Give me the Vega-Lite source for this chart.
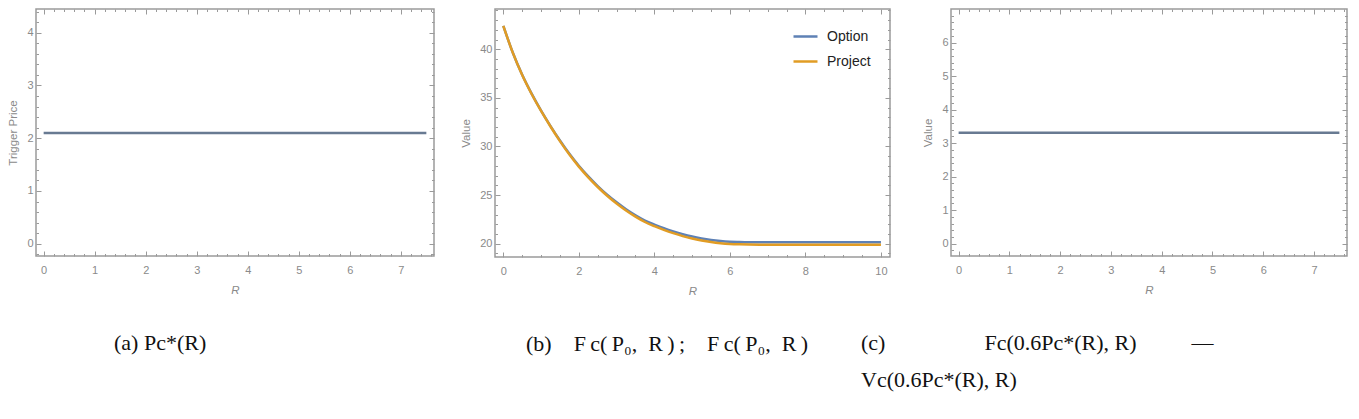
{
  "$schema": "https://vega.github.io/schema/vega-lite/v6.json",
  "padding": {"left": 7, "top": 7, "right": 5, "bottom": 5},
  "bounds": "flush",
  "spacing": 61,
  "resolve": {"scale": {"color": "independent"}, "legend": {"color": "independent"}},
  "config": {
    "view": {"stroke": "#9a9a9a", "strokeWidth": 1.5},
    "axis": {"domain": false, "grid": false, "labelColor": "#8a8a8a", "labelFont": "Liberation Sans", "labelFontSize": 11, "tickColor": "#9a9a9a", "tickWidth": 1, "titleColor": "#8a8a8a", "titleFont": "Liberation Sans", "titleFontSize": 11.5, "titleFontWeight": "normal"},
    "title": {"font": "Liberation Serif", "fontSize": 22, "fontWeight": "normal", "color": "#111111", "lineHeight": 37}
  },
  "hconcat": [
    {
      "width": 398, "height": 247,
      "title": {"text": "(a)  Pc*(R)", "orient": "bottom", "anchor": "start", "frame": "group", "dx": 78, "offset": 37},
      "data": {"values": [
        {"R": 0, "v": 2.1}, {"R": 0.5, "v": 2.1}, {"R": 1, "v": 2.1}, {"R": 1.5, "v": 2.1}, {"R": 2, "v": 2.1}, {"R": 2.5, "v": 2.1}, {"R": 3, "v": 2.1}, {"R": 3.5, "v": 2.1},
        {"R": 4, "v": 2.1}, {"R": 4.5, "v": 2.1}, {"R": 5, "v": 2.1}, {"R": 5.5, "v": 2.1}, {"R": 6, "v": 2.1}, {"R": 6.5, "v": 2.1}, {"R": 7, "v": 2.1}, {"R": 7.5, "v": 2.1}
      ]},
      "layer": [
        {"mark": {"type": "line", "color": "#687a92", "strokeWidth": 2.5},
         "encoding": {
           "x": {"field": "R", "type": "quantitative", "scale": {"domain": [-0.15, 7.65], "nice": false, "zero": false},
                 "axis": {"orient": "bottom", "values": [0,1,2,3,4,5,6,7], "tickSize": -5, "labelPadding": 13, "title": "R", "titleFontStyle": "italic", "titlePadding": 9}},
           "y": {"field": "v", "type": "quantitative", "scale": {"domain": [-0.233, 4.45], "nice": false, "zero": false},
                 "axis": {"orient": "left", "values": [0,1,2,3,4], "tickSize": -5, "labelPadding": 8, "title": "Trigger Price", "titlePadding": 8}}
         }},
        {"mark": {"type": "point", "opacity": 0},
         "encoding": {
           "x": {"field": "R", "type": "quantitative", "axis": {"orient": "top", "values": [0,1,2,3,4,5,6,7], "tickSize": -5, "labels": false, "title": null}},
           "y": {"field": "v", "type": "quantitative", "axis": {"orient": "right", "values": [0,1,2,3,4], "tickSize": -5, "labels": false, "title": null}}
         }},
        {"mark": {"type": "point", "opacity": 0},
         "encoding": {
           "x": {"field": "R", "type": "quantitative", "axis": {"orient": "bottom", "values": [0.2,0.4,0.6,0.8,1.2,1.4,1.6,1.8,2.2,2.4,2.6,2.8,3.2,3.4,3.6,3.8,4.2,4.4,4.6,4.8,5.2,5.4,5.6,5.8,6.2,6.4,6.6,6.8,7.2,7.4,7.6], "tickSize": -2.5, "labels": false, "title": null}},
           "y": {"field": "v", "type": "quantitative", "axis": {"orient": "left", "values": [-0.2,0.2,0.4,0.6,0.8,1.2,1.4,1.6,1.8,2.2,2.4,2.6,2.8,3.2,3.4,3.6,3.8,4.2,4.4], "tickSize": -2.5, "labels": false, "title": null}}
         }},
        {"mark": {"type": "point", "opacity": 0},
         "encoding": {
           "x": {"field": "R", "type": "quantitative", "axis": {"orient": "top", "values": [0.2,0.4,0.6,0.8,1.2,1.4,1.6,1.8,2.2,2.4,2.6,2.8,3.2,3.4,3.6,3.8,4.2,4.4,4.6,4.8,5.2,5.4,5.6,5.8,6.2,6.4,6.6,6.8,7.2,7.4,7.6], "tickSize": -2.5, "labels": false, "title": null}},
           "y": {"field": "v", "type": "quantitative", "axis": {"orient": "right", "values": [-0.2,0.2,0.4,0.6,0.8,1.2,1.4,1.6,1.8,2.2,2.4,2.6,2.8,3.2,3.4,3.6,3.8,4.2,4.4], "tickSize": -2.5, "labels": false, "title": null}}
         }}
      ],
      "resolve": {"axis": {"x": "independent", "y": "independent"}}
    },
    {
      "width": 395, "height": 248,
      "title": {"text": "(b)\u2003F\u2009c(\u2009P\u2080,\u2002R\u2009)\u2009;\u2003F\u2009c(\u2009P\u2080,\u2002R\u2009)", "orient": "bottom", "anchor": "start", "frame": "group", "dx": 31, "offset": 37},
      "data": {"values": [
        {"R": 0, "series": "Option", "v": 42.4}, {"R": 0.25, "series": "Option", "v": 39.66}, {"R": 0.5, "series": "Option", "v": 37.37}, {"R": 0.75, "series": "Option", "v": 35.43},
        {"R": 1, "series": "Option", "v": 33.69}, {"R": 1.25, "series": "Option", "v": 32.1}, {"R": 1.5, "series": "Option", "v": 30.61}, {"R": 1.75, "series": "Option", "v": 29.24},
        {"R": 2, "series": "Option", "v": 28.01}, {"R": 2.25, "series": "Option", "v": 26.92}, {"R": 2.5, "series": "Option", "v": 25.93}, {"R": 2.75, "series": "Option", "v": 25.04},
        {"R": 3, "series": "Option", "v": 24.25}, {"R": 3.25, "series": "Option", "v": 23.54}, {"R": 3.5, "series": "Option", "v": 22.92}, {"R": 3.75, "series": "Option", "v": 22.38},
        {"R": 4, "series": "Option", "v": 21.96}, {"R": 4.25, "series": "Option", "v": 21.59}, {"R": 4.5, "series": "Option", "v": 21.26}, {"R": 4.75, "series": "Option", "v": 20.97},
        {"R": 5, "series": "Option", "v": 20.73}, {"R": 5.25, "series": "Option", "v": 20.54}, {"R": 5.5, "series": "Option", "v": 20.39}, {"R": 5.75, "series": "Option", "v": 20.28},
        {"R": 6, "series": "Option", "v": 20.21}, {"R": 6.25, "series": "Option", "v": 20.18}, {"R": 6.5, "series": "Option", "v": 20.16}, {"R": 7, "series": "Option", "v": 20.15},
        {"R": 8, "series": "Option", "v": 20.15}, {"R": 9, "series": "Option", "v": 20.15}, {"R": 10, "series": "Option", "v": 20.15},
        {"R": 0, "series": "Project", "v": 42.4}, {"R": 0.25, "series": "Project", "v": 39.65}, {"R": 0.5, "series": "Project", "v": 37.35}, {"R": 0.75, "series": "Project", "v": 35.4},
        {"R": 1, "series": "Project", "v": 33.65}, {"R": 1.25, "series": "Project", "v": 32.05}, {"R": 1.5, "series": "Project", "v": 30.55}, {"R": 1.75, "series": "Project", "v": 29.17},
        {"R": 2, "series": "Project", "v": 27.93}, {"R": 2.25, "series": "Project", "v": 26.83}, {"R": 2.5, "series": "Project", "v": 25.83}, {"R": 2.75, "series": "Project", "v": 24.93},
        {"R": 3, "series": "Project", "v": 24.13}, {"R": 3.25, "series": "Project", "v": 23.41}, {"R": 3.5, "series": "Project", "v": 22.78}, {"R": 3.75, "series": "Project", "v": 22.23},
        {"R": 4, "series": "Project", "v": 21.8}, {"R": 4.25, "series": "Project", "v": 21.42}, {"R": 4.5, "series": "Project", "v": 21.08}, {"R": 4.75, "series": "Project", "v": 20.78},
        {"R": 5, "series": "Project", "v": 20.53}, {"R": 5.25, "series": "Project", "v": 20.33}, {"R": 5.5, "series": "Project", "v": 20.17}, {"R": 5.75, "series": "Project", "v": 20.05},
        {"R": 6, "series": "Project", "v": 19.97}, {"R": 6.25, "series": "Project", "v": 19.93}, {"R": 6.5, "series": "Project", "v": 19.91}, {"R": 7, "series": "Project", "v": 19.9},
        {"R": 8, "series": "Project", "v": 19.9}, {"R": 9, "series": "Project", "v": 19.9}, {"R": 10, "series": "Project", "v": 19.9}
      ]},
      "layer": [
        {"mark": {"type": "line", "strokeWidth": 2.5, "interpolate": "monotone"},
         "encoding": {
           "x": {"field": "R", "type": "quantitative", "scale": {"domain": [-0.22, 10.24], "nice": false, "zero": false},
                 "axis": {"orient": "bottom", "values": [0,2,4,6,8,10], "tickSize": -5, "labelPadding": 13, "title": "R", "titleFontStyle": "italic", "titlePadding": 9}},
           "y": {"field": "v", "type": "quantitative", "scale": {"domain": [18.63, 44.14], "nice": false, "zero": false},
                 "axis": {"orient": "left", "values": [20,25,30,35,40], "tickSize": -5, "labelPadding": 8, "title": "Value", "titlePadding": 8}},
           "color": {"field": "series", "type": "nominal", "scale": {"domain": ["Option", "Project"], "range": ["#5E81B5", "#E19C24"]},
                     "legend": {"orient": "none", "legendX": 297, "legendY": 14, "padding": 0, "title": null, "symbolType": "stroke", "symbolSize": 576, "symbolStrokeWidth": 2.5, "labelFontSize": 14, "labelFont": "Liberation Sans", "labelColor": "#222222", "labelOffset": 8, "rowPadding": 4}}
         }},
        {"mark": {"type": "point", "opacity": 0},
         "encoding": {
           "x": {"field": "R", "type": "quantitative", "axis": {"orient": "top", "values": [0,2,4,6,8,10], "tickSize": -5, "labels": false, "title": null}},
           "y": {"field": "v", "type": "quantitative", "axis": {"orient": "right", "values": [20,25,30,35,40], "tickSize": -5, "labels": false, "title": null}}
         }},
        {"mark": {"type": "point", "opacity": 0},
         "encoding": {
           "x": {"field": "R", "type": "quantitative", "axis": {"orient": "bottom", "values": [0.5,1,1.5,2.5,3,3.5,4.5,5,5.5,6.5,7,7.5,8.5,9,9.5], "tickSize": -2.5, "labels": false, "title": null}},
           "y": {"field": "v", "type": "quantitative", "axis": {"orient": "left", "values": [19,21,22,23,24,26,27,28,29,31,32,33,34,36,37,38,39,41,42,43,44], "tickSize": -2.5, "labels": false, "title": null}}
         }},
        {"mark": {"type": "point", "opacity": 0},
         "encoding": {
           "x": {"field": "R", "type": "quantitative", "axis": {"orient": "top", "values": [0.5,1,1.5,2.5,3,3.5,4.5,5,5.5,6.5,7,7.5,8.5,9,9.5], "tickSize": -2.5, "labels": false, "title": null}},
           "y": {"field": "v", "type": "quantitative", "axis": {"orient": "right", "values": [19,21,22,23,24,26,27,28,29,31,32,33,34,36,37,38,39,41,42,43,44], "tickSize": -2.5, "labels": false, "title": null}}
         }}
      ],
      "resolve": {"axis": {"x": "independent", "y": "independent"}}
    },
    {
      "width": 396, "height": 247,
      "title": {"text": ["(c)\u2003\u2003\u2003\u2003\u2002Fc(0.6Pc*(R), R)\u2003\u2003\u2002—", "Vc(0.6Pc*(R), R)"], "orient": "bottom", "anchor": "start", "frame": "group", "dx": -90, "offset": 37},
      "data": {"values": [
        {"R": 0, "v": 3.31}, {"R": 0.5, "v": 3.31}, {"R": 1, "v": 3.31}, {"R": 1.5, "v": 3.31}, {"R": 2, "v": 3.31}, {"R": 2.5, "v": 3.31}, {"R": 3, "v": 3.31}, {"R": 3.5, "v": 3.31},
        {"R": 4, "v": 3.31}, {"R": 4.5, "v": 3.31}, {"R": 5, "v": 3.31}, {"R": 5.5, "v": 3.31}, {"R": 6, "v": 3.31}, {"R": 6.5, "v": 3.31}, {"R": 7, "v": 3.31}, {"R": 7.5, "v": 3.31}
      ]},
      "layer": [
        {"mark": {"type": "line", "color": "#687a92", "strokeWidth": 2.5},
         "encoding": {
           "x": {"field": "R", "type": "quantitative", "scale": {"domain": [-0.15, 7.65], "nice": false, "zero": false},
                 "axis": {"orient": "bottom", "values": [0,1,2,3,4,5,6,7], "tickSize": -5, "labelPadding": 13, "title": "R", "titleFontStyle": "italic", "titlePadding": 9}},
           "y": {"field": "v", "type": "quantitative", "scale": {"domain": [-0.367, 7.0], "nice": false, "zero": false},
                 "axis": {"orient": "left", "values": [0,1,2,3,4,5,6], "tickSize": -5, "labelPadding": 8, "title": "Value", "titlePadding": 8}}
         }},
        {"mark": {"type": "point", "opacity": 0},
         "encoding": {
           "x": {"field": "R", "type": "quantitative", "axis": {"orient": "top", "values": [0,1,2,3,4,5,6,7], "tickSize": -5, "labels": false, "title": null}},
           "y": {"field": "v", "type": "quantitative", "axis": {"orient": "right", "values": [0,1,2,3,4,5,6], "tickSize": -5, "labels": false, "title": null}}
         }},
        {"mark": {"type": "point", "opacity": 0},
         "encoding": {
           "x": {"field": "R", "type": "quantitative", "axis": {"orient": "bottom", "values": [0.2,0.4,0.6,0.8,1.2,1.4,1.6,1.8,2.2,2.4,2.6,2.8,3.2,3.4,3.6,3.8,4.2,4.4,4.6,4.8,5.2,5.4,5.6,5.8,6.2,6.4,6.6,6.8,7.2,7.4,7.6], "tickSize": -2.5, "labels": false, "title": null}},
           "y": {"field": "v", "type": "quantitative", "axis": {"orient": "left", "values": [-0.2,0.2,0.4,0.6,0.8,1.2,1.4,1.6,1.8,2.2,2.4,2.6,2.8,3.2,3.4,3.6,3.8,4.2,4.4,4.6,4.8,5.2,5.4,5.6,5.8,6.2,6.4,6.6,6.8], "tickSize": -2.5, "labels": false, "title": null}}
         }},
        {"mark": {"type": "point", "opacity": 0},
         "encoding": {
           "x": {"field": "R", "type": "quantitative", "axis": {"orient": "top", "values": [0.2,0.4,0.6,0.8,1.2,1.4,1.6,1.8,2.2,2.4,2.6,2.8,3.2,3.4,3.6,3.8,4.2,4.4,4.6,4.8,5.2,5.4,5.6,5.8,6.2,6.4,6.6,6.8,7.2,7.4,7.6], "tickSize": -2.5, "labels": false, "title": null}},
           "y": {"field": "v", "type": "quantitative", "axis": {"orient": "right", "values": [-0.2,0.2,0.4,0.6,0.8,1.2,1.4,1.6,1.8,2.2,2.4,2.6,2.8,3.2,3.4,3.6,3.8,4.2,4.4,4.6,4.8,5.2,5.4,5.6,5.8,6.2,6.4,6.6,6.8], "tickSize": -2.5, "labels": false, "title": null}}
         }}
      ],
      "resolve": {"axis": {"x": "independent", "y": "independent"}}
    }
  ]
}
